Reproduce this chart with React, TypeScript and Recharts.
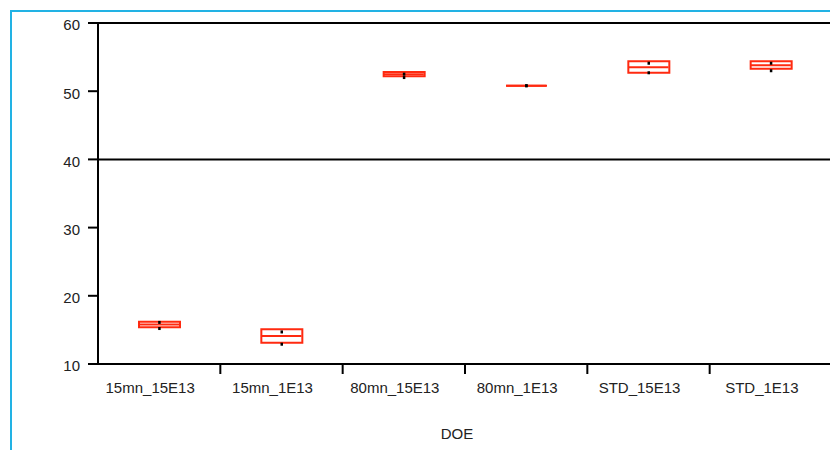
import React from 'react';
import {
  Bar,
  ComposedChart,
  ReferenceLine,
  Scatter,
  XAxis,
  YAxis,
} from 'recharts';

const categories = ['15mn_15E13', '15mn_1E13', '80mn_15E13', '80mn_1E13', 'STD_15E13', 'STD_1E13'];
const q1 = [15.4, 13.1, 52.2, 50.8, 52.7, 53.3];
const median = [15.8, 14.1, 52.5, 50.8, 53.5, 53.8];
const q3 = [16.2, 15.1, 52.8, 50.8, 54.4, 54.4];
const pointHi = [16.1, 14.7, 52.5, 50.8, 54.1, 54.1];
const pointLo = [15.2, 12.9, 52.0, 50.8, 52.7, 53.0];
const yTicks = [10, 20, 30, 40, 50, 60];

const rows = categories.map((cat, i) => ({
  cat,
  box: [q1[i], q3[i]],
  median: median[i],
  hi: pointHi[i],
  lo: pointLo[i],
}));

const RED = '#ff2a10';
const FONT = '"Liberation Sans", Arial, sans-serif';

const BoxShape = (props: any) => {
  const { x, y, width, height } = props;
  const top = Math.min(y, y + height);
  const h = Math.abs(height);
  return (
    <path
      d={`M${x},${top}h${width}v${h}h${-width}Z`}
      fill='none'
      stroke={RED}
      strokeWidth={2}
    />
  );
};

const MedianShape = (props: any) => {
  const { cx, cy } = props;
  return <line x1={cx - 20} x2={cx + 20} y1={cy} y2={cy} stroke={RED} strokeWidth={2} />;
};

const DotShape = (props: any) => {
  const { cx, cy } = props;
  return <rect x={cx - 1} y={cy - 1.5} width={2.5} height={3} fill='#000' />;
};

// category label, plus the tick mark at the right edge of its band
const CatTick = (props: any) => {
  const { x, y, payload } = props;
  const half = payload.offset || 61;
  const bx = x + half;
  return (
    <g>
      <line x1={bx} x2={bx} y1={y - 18} y2={y - 8} stroke='#000' strokeWidth={2} />
      <text x={x - 9} y={y} dy='0.71em' textAnchor='middle' fill='#222' fontSize={15} fontFamily={FONT}>
        {payload.value}
      </text>
    </g>
  );
};

export default function App() {
  return (
    <div
      style={{
        position: 'fixed',
        left: 0,
        top: 0,
        width: 830,
        height: 450,
        overflow: 'hidden',
        background: '#fff',
      }}
    >
      <div
        style={{
          position: 'absolute',
          left: 10,
          top: 10,
          width: 900,
          height: 500,
          borderLeft: '2px solid #22b2e4',
          borderTop: '2px solid #22b2e4',
        }}
      />
      <div style={{ position: 'absolute', left: 0, top: 0 }}>
        <ComposedChart
          width={840}
          height={450}
          data={rows}
          margin={{ top: 23, right: 8, bottom: 0, left: 0 }}
        >
          <XAxis
            dataKey='cat'
            axisLine={{ stroke: '#000', strokeWidth: 2 }}
            tickLine={false}
            tickSize={10}
            tickMargin={8}
            tick={<CatTick />}
            height={86}
            interval={0}
            label={{
              value: 'DOE',
              position: 'insideBottom',
              offset: 11,
              dx: -8,
              fill: '#222',
              fontSize: 15,
              fontFamily: FONT,
            }}
          />
          <YAxis
            domain={[10, 60]}
            ticks={yTicks}
            width={98}
            axisLine={{ stroke: '#000', strokeWidth: 2 }}
            tickLine={{ stroke: '#000', strokeWidth: 2 }}
            tickSize={10}
            tickMargin={8}
            tick={{ fill: '#222', fontSize: 15, fontFamily: FONT, dy: 2 }}
            allowDataOverflow
          />
          <ReferenceLine y={60} stroke='#000' strokeWidth={2} />
          <ReferenceLine y={40} stroke='#000' strokeWidth={2} />
          <Bar dataKey='box' barSize={41} shape={<BoxShape />} isAnimationActive={false} />
          <Scatter dataKey='median' shape={<MedianShape />} isAnimationActive={false} />
          <Scatter dataKey='hi' shape={<DotShape />} isAnimationActive={false} />
          <Scatter dataKey='lo' shape={<DotShape />} isAnimationActive={false} />
        </ComposedChart>
      </div>
    </div>
  );
}
